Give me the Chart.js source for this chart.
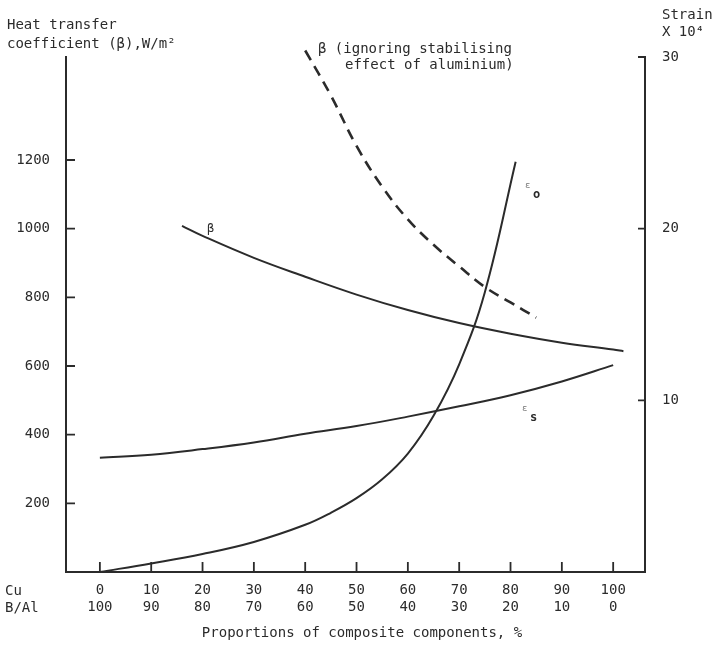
<!DOCTYPE html>
<html lang="en">
  <head>
    <meta charset="UTF-8" />
    <style>
      body { margin: 0; background: #fff; }
      #box { width: 715px; height: 648px; position: relative; }
    </style>
    <title>Heat transfer coefficient and strain</title>
  </head>
  <body>
  <div id="box"><canvas id="c"></canvas></div>

<script src="https://cdn.jsdelivr.net/npm/chart.js"></script>
<script>

// x = Cu percentage (B/Al = 100 - Cu)
const cuTicks = [0, 10, 20, 30, 40, 50, 60, 70, 80, 90, 100];
const balTicks = [100, 90, 80, 70, 60, 50, 40, 30, 20, 10, 0];
const leftTicks = [200, 400, 600, 800, 1000, 1200];
const rightTicks = [10, 20, 30];

// beta, W/m2 (left axis)
const betaX = [16, 20, 30, 40, 50, 60, 70, 80, 90, 100, 102];
const betaY = [1008, 979, 915, 860, 808, 763, 725, 694, 668, 648, 643];

// beta ignoring stabilising effect of aluminium (dashed)
const betaIgnX = [40, 45, 50, 55, 60, 65, 70, 75, 80, 85];
const betaIgnY = [1519, 1388, 1241, 1122, 1027, 953, 890, 830, 785, 741];

// strains x 10^4 (right axis)
const epsOX = [0, 10, 20, 30, 40, 45, 50, 55, 60, 65, 70, 75, 81];
const epsOY = [0, 0.5, 1.05, 1.75, 2.75, 3.45, 4.3, 5.4, 6.9, 9.1, 12.1, 16.3, 23.9];
const epsSX = [0, 10, 20, 30, 40, 50, 60, 70, 80, 90, 100];
const epsSY = [6.65, 6.83, 7.16, 7.55, 8.05, 8.5, 9.05, 9.65, 10.3, 11.1, 12.05];

const ink = '#2b2b2b';
const mono = '"DejaVu Sans Mono", monospace';

function pts(xs, ys) {
  return xs.map((x, i) => ({ x: x, y: ys[i] }));
}

function line(label, xs, ys, axis, dash) {
  return {
    label: label,
    data: pts(xs, ys),
    yAxisID: axis,
    borderColor: ink,
    borderWidth: dash ? 2.6 : 2,
    borderDash: dash ? [11, 7] : [],
    pointRadius: 0,
    tension: 0.4,
    fill: false,
    clip: false,
  };
}

// inward tick marks, like the drawn original
const tickMarks = {
  id: 'tickMarks',
  afterDraw(chart) {
    const c = chart.ctx;
    const a = chart.chartArea;
    const s = chart.scales;
    c.save();
    c.strokeStyle = ink;
    c.lineWidth = 1.8;
    c.beginPath();
    cuTicks.forEach(v => {
      const px = s.x.getPixelForValue(v);
      c.moveTo(px, a.bottom); c.lineTo(px, a.bottom - 10);
    });
    leftTicks.forEach(v => {
      const py = s.y.getPixelForValue(v);
      c.moveTo(a.left, py); c.lineTo(a.left + 9, py);
    });
    rightTicks.forEach(v => {
      const py = s.y2.getPixelForValue(v);
      c.moveTo(a.right, py); c.lineTo(a.right - 7, py);
    });
    c.stroke();
    c.restore();
  }
};

// free text: axis titles and curve labels
const notes = {
  id: 'notes',
  afterDraw(chart) {
    const c = chart.ctx;
    c.save();
    c.fillStyle = ink;
    c.textBaseline = 'alphabetic';
    c.font = '14px ' + mono;
    c.fillText('Heat transfer', 7, 29);
    c.fillText('coefficient (\u03b2),W/m\u00b2', 7, 48);
    c.fillText('Strain', 662, 19);
    c.fillText('X 10\u2074', 662, 36);
    c.fillText('\u03b2 (ignoring stabilising', 318, 53);
    c.fillText('effect of aluminium)', 345, 69);
    c.fillText('Cu', 5, 595);
    c.fillText('B/Al', 5, 612);
    c.textAlign = 'center';
    c.fillText('Proportions of composite components, %', 362, 637);
    c.textAlign = 'left';
    c.font = '12px ' + mono;
    c.fillText('\u03b2', 207, 232);
    c.font = '9px ' + mono;
    c.fillStyle = '#777';
    c.fillText('\u03b5', 525, 188);
    c.fillText('\u03b5', 522, 411);
    c.fillStyle = ink;
    c.font = 'bold 12px ' + mono;
    c.fillText('o', 533, 198);
    c.fillText('s', 530, 421);
    c.restore();
  }
};

const data1 = {
  datasets: [
    line('\u03b2', betaX, betaY, 'y', false),
    line('\u03b2 (ignoring stabilising effect of aluminium)', betaIgnX, betaIgnY, 'y', true),
    line('\u03b5o', epsOX, epsOY, 'y2', false),
    line('\u03b5s', epsSX, epsSY, 'y2', false),
  ],
};

const config = {
  type: 'line',
  data: data1,
  options: {
    responsive: true,
    maintainAspectRatio: false,
    animation: false,
    layout: { padding: { top: 57, left: 0, right: 0, bottom: 0 } },
    plugins: { legend: { display: false }, tooltip: { enabled: false } },
    scales: {
      x: {
        type: 'linear',
        min: -6.6,
        max: 106.2,
        grid: { display: false, drawTicks: false },
        border: { display: true, color: ink, width: 2 },
        afterBuildTicks: sc => { sc.ticks = cuTicks.map(v => ({ value: v })); },
        afterFit: sc => { sc.height = 76; },
        ticks: {
          color: ink,
          padding: 10,
          maxRotation: 0,
          autoSkip: false,
          font: { family: mono, size: 14, lineHeight: 1.2 },
          callback: v => [String(v), String(balTicks[cuTicks.indexOf(v)])],
        },
      },
      y: {
        position: 'left',
        min: 0,
        max: 1500,
        grid: { display: false, drawTicks: false },
        border: { display: true, color: ink, width: 2 },
        afterBuildTicks: sc => { sc.ticks = leftTicks.map(v => ({ value: v })); },
        afterFit: sc => { sc.width = 66; },
        ticks: { color: ink, padding: 16, font: { family: mono, size: 14 }, callback: v => String(v) },
      },
      y2: {
        position: 'right',
        min: 0,
        max: 30,
        grid: { display: false, drawTicks: false },
        border: { display: true, color: ink, width: 2 },
        afterBuildTicks: sc => { sc.ticks = rightTicks.map(v => ({ value: v })); },
        afterFit: sc => { sc.width = 70; },
        ticks: { color: ink, padding: 17, font: { family: mono, size: 14 }, callback: v => String(v) },
      },
    },
  },
  plugins: [tickMarks, notes],
};

new Chart(document.getElementById('c'), config);
</script>
  </body>
</html>
